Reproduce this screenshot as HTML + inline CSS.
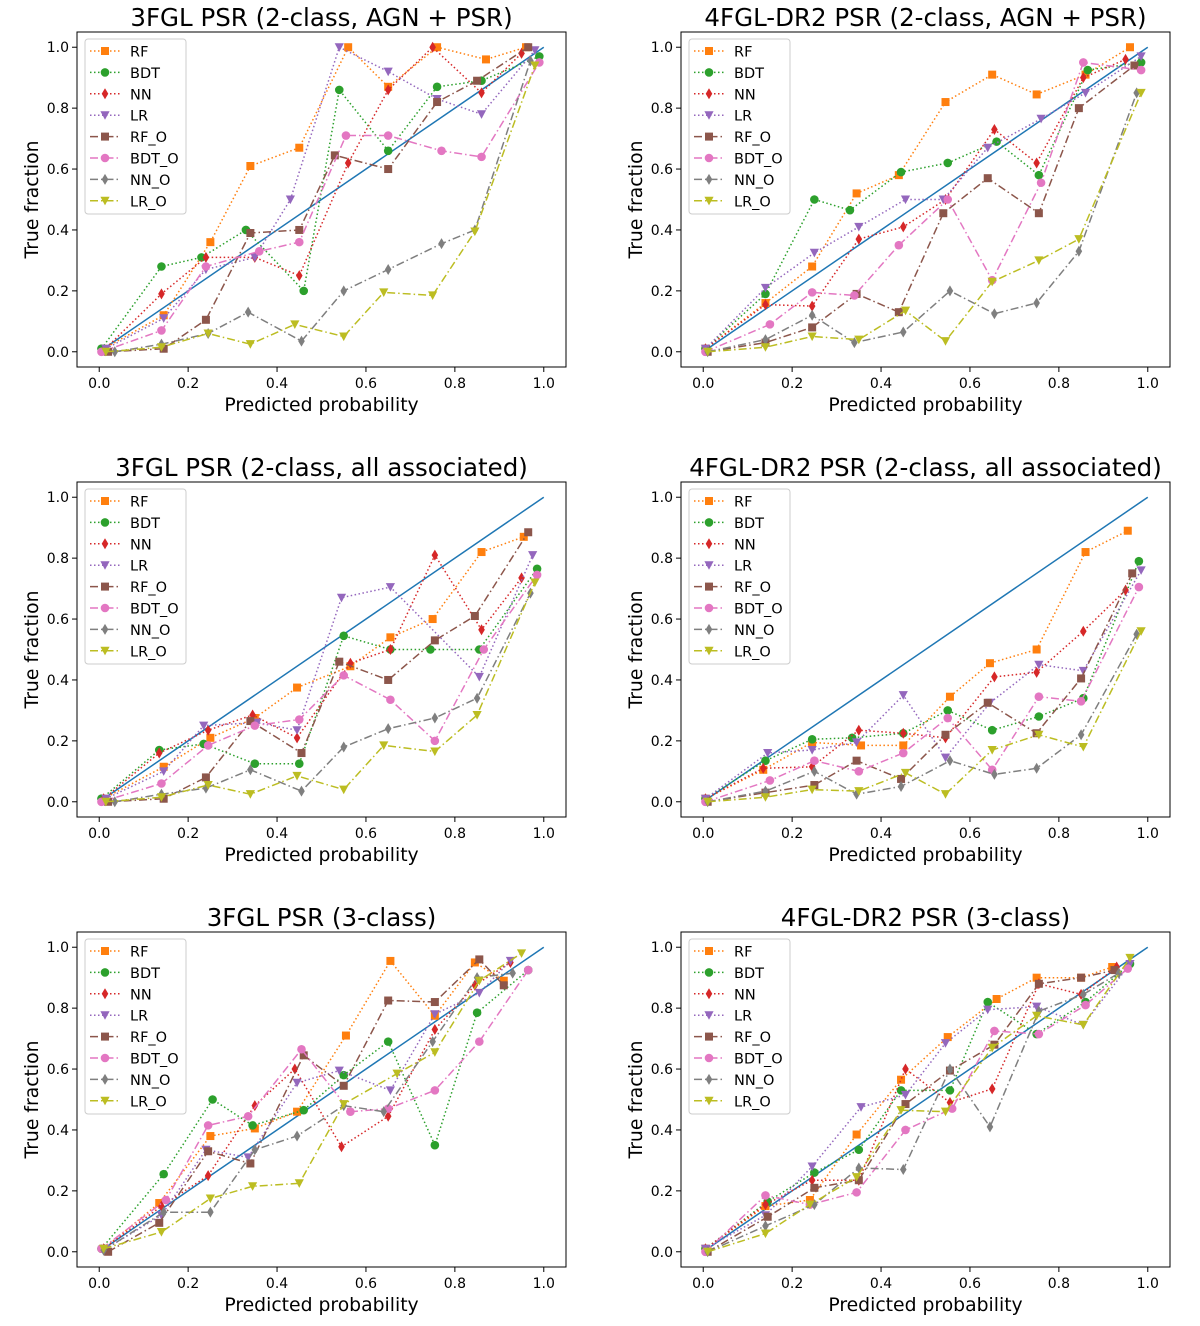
<!DOCTYPE html>
<html><head><meta charset="utf-8"><style>
body{margin:0;background:#fff;}
svg{display:block;font-family:"DejaVu Sans","Liberation Sans",sans-serif;}
</style></head><body>
<svg id="fig" width="1200" height="1326" viewBox="0 0 1200 1326" xmlns="http://www.w3.org/2000/svg"></svg>
<script>
const seriesNames = ["RF","BDT","NN","LR","RF_O","BDT_O","NN_O","LR_O"];
const panelTitles = ["3FGL PSR (2-class, AGN + PSR)","4FGL-DR2 PSR (2-class, AGN + PSR)","3FGL PSR (2-class, all associated)","4FGL-DR2 PSR (2-class, all associated)","3FGL PSR (3-class)","4FGL-DR2 PSR (3-class)"];
const tickValues = [0,0.2,0.4,0.6,0.8,1.0];
const tickLabels = ["0.0","0.2","0.4","0.6","0.8","1.0"];

// Panel 1: 3FGL AGN+PSR
const p1_RF_x=[0.01,0.145,0.25,0.34,0.45,0.56,0.65,0.76,0.87,0.96];
const p1_RF_y=[0.01,0.12,0.36,0.61,0.67,1.0,0.87,1.0,0.96,1.0];
const p1_BDT_x=[0.005,0.14,0.23,0.33,0.46,0.54,0.65,0.76,0.86,0.99];
const p1_BDT_y=[0.01,0.28,0.31,0.40,0.20,0.86,0.66,0.87,0.89,0.97];
const p1_NN_x=[0.01,0.14,0.24,0.35,0.45,0.56,0.65,0.75,0.86,0.95];
const p1_NN_y=[0.005,0.19,0.31,0.31,0.25,0.62,0.86,1.0,0.85,0.98];
const p1_LR_x=[0.015,0.145,0.24,0.35,0.43,0.54,0.65,0.76,0.86,0.98];
const p1_LR_y=[0.01,0.11,0.27,0.31,0.50,1.0,0.92,0.83,0.78,0.99];
const p1_RFO_x=[0.02,0.145,0.24,0.34,0.45,0.53,0.65,0.76,0.85,0.965];
const p1_RFO_y=[0.0,0.01,0.105,0.39,0.40,0.645,0.60,0.82,0.89,1.0];
const p1_BDTO_x=[0.005,0.14,0.24,0.36,0.45,0.555,0.65,0.77,0.86,0.99];
const p1_BDTO_y=[0.0,0.07,0.28,0.33,0.36,0.71,0.71,0.66,0.64,0.95];
const p1_NNO_x=[0.035,0.14,0.245,0.335,0.455,0.55,0.65,0.77,0.845,0.97];
const p1_NNO_y=[0.0,0.025,0.06,0.13,0.035,0.20,0.27,0.355,0.40,0.955];
const p1_LRO_x=[0.015,0.14,0.245,0.34,0.44,0.55,0.64,0.75,0.845,0.98];
const p1_LRO_y=[0.0,0.015,0.06,0.025,0.09,0.05,0.195,0.185,0.395,0.94];

// Panel 2: 4FGL-DR2 AGN+PSR
const p2_RF_x=[0.005,0.14,0.245,0.345,0.44,0.545,0.65,0.75,0.86,0.96];
const p2_RF_y=[0.01,0.16,0.28,0.52,0.58,0.82,0.91,0.845,0.91,1.0];
const p2_BDT_x=[0.005,0.14,0.25,0.33,0.445,0.55,0.66,0.755,0.865,0.985];
const p2_BDT_y=[0.01,0.19,0.50,0.465,0.59,0.62,0.69,0.58,0.925,0.95];
const p2_NN_x=[0.005,0.14,0.245,0.35,0.45,0.545,0.655,0.75,0.855,0.95];
const p2_NN_y=[0.01,0.155,0.15,0.37,0.41,0.50,0.73,0.62,0.90,0.96];
const p2_LR_x=[0.005,0.14,0.25,0.35,0.455,0.54,0.64,0.76,0.86,0.985];
const p2_LR_y=[0.01,0.21,0.325,0.41,0.50,0.50,0.67,0.765,0.85,0.97];
const p2_RFO_x=[0.01,0.14,0.245,0.345,0.44,0.54,0.64,0.755,0.845,0.97];
const p2_RFO_y=[0.0,0.03,0.08,0.19,0.13,0.455,0.57,0.455,0.80,0.94];
const p2_BDTO_x=[0.005,0.15,0.245,0.34,0.44,0.55,0.65,0.76,0.855,0.985];
const p2_BDTO_y=[0.0,0.09,0.195,0.185,0.35,0.50,0.235,0.555,0.95,0.925];
const p2_NNO_x=[0.01,0.14,0.245,0.34,0.45,0.555,0.655,0.75,0.845,0.975];
const p2_NNO_y=[0.0,0.04,0.12,0.03,0.065,0.20,0.125,0.16,0.33,0.85];
const p2_LRO_x=[0.01,0.14,0.245,0.35,0.455,0.545,0.65,0.755,0.845,0.985];
const p2_LRO_y=[0.0,0.015,0.05,0.04,0.135,0.035,0.23,0.30,0.37,0.85];

// Panel 3: 3FGL all associated
const p3_RF_x=[0.01,0.145,0.25,0.35,0.445,0.565,0.655,0.75,0.86,0.955];
const p3_RF_y=[0.01,0.115,0.21,0.275,0.375,0.445,0.54,0.60,0.82,0.87];
const p3_BDT_x=[0.005,0.135,0.235,0.35,0.45,0.55,0.655,0.745,0.855,0.985];
const p3_BDT_y=[0.01,0.17,0.19,0.125,0.125,0.545,0.50,0.50,0.50,0.765];
const p3_NN_x=[0.01,0.135,0.245,0.345,0.445,0.565,0.655,0.755,0.86,0.95];
const p3_NN_y=[0.01,0.16,0.235,0.285,0.21,0.455,0.50,0.81,0.565,0.735];
const p3_LR_x=[0.015,0.145,0.235,0.355,0.445,0.545,0.655,0.855,0.975];
const p3_LR_y=[0.01,0.10,0.25,0.26,0.235,0.67,0.705,0.41,0.81];
const p3_RFO_x=[0.02,0.145,0.24,0.34,0.455,0.54,0.65,0.755,0.845,0.965];
const p3_RFO_y=[0.0,0.01,0.08,0.265,0.16,0.46,0.40,0.53,0.61,0.885];
const p3_BDTO_x=[0.005,0.14,0.245,0.35,0.45,0.55,0.655,0.755,0.865,0.985];
const p3_BDTO_y=[0.0,0.06,0.185,0.25,0.27,0.415,0.335,0.20,0.50,0.745];
const p3_NNO_x=[0.035,0.14,0.24,0.34,0.455,0.55,0.65,0.755,0.85,0.97];
const p3_NNO_y=[0.0,0.025,0.045,0.105,0.035,0.18,0.24,0.275,0.34,0.685];
const p3_LRO_x=[0.015,0.14,0.245,0.34,0.445,0.55,0.64,0.755,0.85,0.98];
const p3_LRO_y=[0.0,0.015,0.055,0.025,0.085,0.04,0.185,0.165,0.285,0.72];

// Panel 4: 4FGL-DR2 all associated
const p4_RF_x=[0.005,0.135,0.245,0.355,0.45,0.555,0.645,0.75,0.86,0.955];
const p4_RF_y=[0.01,0.105,0.195,0.185,0.185,0.345,0.455,0.50,0.82,0.89];
const p4_BDT_x=[0.005,0.14,0.245,0.335,0.45,0.55,0.65,0.755,0.855,0.98];
const p4_BDT_y=[0.01,0.135,0.205,0.21,0.225,0.30,0.235,0.28,0.34,0.79];
const p4_NN_x=[0.005,0.135,0.245,0.35,0.45,0.545,0.655,0.75,0.855,0.95];
const p4_NN_y=[0.01,0.11,0.115,0.235,0.225,0.21,0.41,0.425,0.56,0.695];
const p4_LR_x=[0.005,0.145,0.245,0.345,0.45,0.545,0.645,0.755,0.855,0.985];
const p4_LR_y=[0.01,0.16,0.17,0.195,0.35,0.145,0.325,0.45,0.43,0.76];
const p4_RFO_x=[0.01,0.14,0.25,0.345,0.445,0.545,0.64,0.75,0.85,0.965];
const p4_RFO_y=[0.0,0.03,0.055,0.135,0.075,0.22,0.325,0.225,0.405,0.75];
const p4_BDTO_x=[0.005,0.15,0.25,0.35,0.45,0.55,0.65,0.755,0.85,0.98];
const p4_BDTO_y=[0.0,0.07,0.135,0.10,0.16,0.275,0.105,0.345,0.33,0.705];
const p4_NNO_x=[0.01,0.14,0.25,0.345,0.445,0.555,0.655,0.75,0.85,0.975];
const p4_NNO_y=[0.0,0.035,0.10,0.025,0.05,0.135,0.09,0.11,0.22,0.55];
const p4_LRO_x=[0.01,0.14,0.245,0.35,0.455,0.545,0.65,0.755,0.855,0.985];
const p4_LRO_y=[0.0,0.015,0.04,0.035,0.095,0.025,0.17,0.22,0.18,0.56];

// Panel 5: 3FGL 3-class
const p5_RF_x=[0.01,0.135,0.25,0.35,0.445,0.555,0.655,0.755,0.845,0.91];
const p5_RF_y=[0.01,0.16,0.38,0.405,0.46,0.71,0.955,0.775,0.95,0.89];
const p5_BDT_x=[0.005,0.145,0.255,0.345,0.46,0.55,0.65,0.755,0.85,0.965];
const p5_BDT_y=[0.01,0.255,0.50,0.415,0.465,0.58,0.69,0.35,0.785,0.925];
const p5_NN_x=[0.01,0.14,0.245,0.35,0.44,0.545,0.65,0.755,0.845,0.925];
const p5_NN_y=[0.01,0.15,0.25,0.48,0.60,0.345,0.445,0.73,0.875,0.95];
const p5_LR_x=[0.015,0.14,0.24,0.335,0.445,0.54,0.655,0.755,0.855,0.925];
const p5_LR_y=[0.01,0.12,0.335,0.31,0.555,0.595,0.53,0.78,0.85,0.955];
const p5_RFO_x=[0.02,0.135,0.245,0.34,0.46,0.55,0.65,0.755,0.855,0.91];
const p5_RFO_y=[0.0,0.095,0.33,0.29,0.645,0.545,0.825,0.82,0.96,0.875];
const p5_BDTO_x=[0.005,0.15,0.245,0.335,0.455,0.565,0.65,0.755,0.855,0.965];
const p5_BDTO_y=[0.01,0.17,0.415,0.445,0.665,0.46,0.47,0.53,0.69,0.925];
const p5_NNO_x=[0.01,0.145,0.25,0.35,0.445,0.55,0.64,0.75,0.85,0.93];
const p5_NNO_y=[0.005,0.13,0.13,0.335,0.38,0.48,0.46,0.69,0.90,0.915];
const p5_LRO_x=[0.01,0.14,0.25,0.345,0.45,0.55,0.67,0.755,0.855,0.95];
const p5_LRO_y=[0.01,0.065,0.175,0.215,0.225,0.485,0.585,0.655,0.89,0.98];

// Panel 6: 4FGL-DR2 3-class
const p6_RF_x=[0.005,0.14,0.24,0.345,0.445,0.55,0.66,0.75,0.85,0.92];
const p6_RF_y=[0.01,0.15,0.17,0.385,0.565,0.705,0.83,0.90,0.90,0.935];
const p6_BDT_x=[0.005,0.145,0.25,0.35,0.445,0.555,0.64,0.75,0.86,0.96];
const p6_BDT_y=[0.01,0.165,0.26,0.335,0.53,0.53,0.82,0.715,0.82,0.945];
const p6_NN_x=[0.005,0.14,0.245,0.35,0.455,0.555,0.65,0.755,0.85,0.93];
const p6_NN_y=[0.01,0.155,0.235,0.235,0.60,0.49,0.535,0.88,0.845,0.935];
const p6_LR_x=[0.005,0.14,0.245,0.355,0.455,0.545,0.64,0.75,0.855,0.96];
const p6_LR_y=[0.01,0.12,0.28,0.475,0.515,0.685,0.795,0.805,0.745,0.945];
const p6_RFO_x=[0.01,0.145,0.25,0.35,0.455,0.555,0.655,0.755,0.85,0.925];
const p6_RFO_y=[0.0,0.115,0.21,0.235,0.485,0.595,0.68,0.88,0.90,0.925];
const p6_BDTO_x=[0.005,0.14,0.24,0.345,0.455,0.56,0.655,0.755,0.86,0.955];
const p6_BDTO_y=[0.0,0.185,0.155,0.195,0.40,0.47,0.725,0.715,0.81,0.93];
const p6_NNO_x=[0.01,0.14,0.25,0.35,0.45,0.555,0.645,0.755,0.855,0.935];
const p6_NNO_y=[0.0,0.085,0.155,0.275,0.27,0.60,0.41,0.79,0.845,0.915];
const p6_LRO_x=[0.01,0.14,0.24,0.345,0.445,0.545,0.65,0.75,0.855,0.96];
const p6_LRO_y=[0.0,0.06,0.155,0.245,0.465,0.46,0.67,0.775,0.745,0.965];

const panelX = [
 [p1_RF_x,p1_BDT_x,p1_NN_x,p1_LR_x,p1_RFO_x,p1_BDTO_x,p1_NNO_x,p1_LRO_x],
 [p2_RF_x,p2_BDT_x,p2_NN_x,p2_LR_x,p2_RFO_x,p2_BDTO_x,p2_NNO_x,p2_LRO_x],
 [p3_RF_x,p3_BDT_x,p3_NN_x,p3_LR_x,p3_RFO_x,p3_BDTO_x,p3_NNO_x,p3_LRO_x],
 [p4_RF_x,p4_BDT_x,p4_NN_x,p4_LR_x,p4_RFO_x,p4_BDTO_x,p4_NNO_x,p4_LRO_x],
 [p5_RF_x,p5_BDT_x,p5_NN_x,p5_LR_x,p5_RFO_x,p5_BDTO_x,p5_NNO_x,p5_LRO_x],
 [p6_RF_x,p6_BDT_x,p6_NN_x,p6_LR_x,p6_RFO_x,p6_BDTO_x,p6_NNO_x,p6_LRO_x]];
const panelY = [
 [p1_RF_y,p1_BDT_y,p1_NN_y,p1_LR_y,p1_RFO_y,p1_BDTO_y,p1_NNO_y,p1_LRO_y],
 [p2_RF_y,p2_BDT_y,p2_NN_y,p2_LR_y,p2_RFO_y,p2_BDTO_y,p2_NNO_y,p2_LRO_y],
 [p3_RF_y,p3_BDT_y,p3_NN_y,p3_LR_y,p3_RFO_y,p3_BDTO_y,p3_NNO_y,p3_LRO_y],
 [p4_RF_y,p4_BDT_y,p4_NN_y,p4_LR_y,p4_RFO_y,p4_BDTO_y,p4_NNO_y,p4_LRO_y],
 [p5_RF_y,p5_BDT_y,p5_NN_y,p5_LR_y,p5_RFO_y,p5_BDTO_y,p5_NNO_y,p5_LRO_y],
 [p6_RF_y,p6_BDT_y,p6_NN_y,p6_LR_y,p6_RFO_y,p6_BDTO_y,p6_NNO_y,p6_LRO_y]];

const colors=["#ff7f0e","#2ca02c","#d62728","#9467bd","#8c564b","#e377c2","#7f7f7f","#bcbd22"];
const markers=["s","o","d","v","s","o","d","v"];
const dashes=["1.5,2.5","1.5,2.5","1.5,2.5","1.5,2.5","8,3,1.5,3","8,3,1.5,3","8,3,1.5,3","8,3,1.5,3"];

const NS="http://www.w3.org/2000/svg";
const svg=document.getElementById('fig');
function mk(tag,attrs,parent){const e=document.createElementNS(NS,tag);for(const k in attrs)e.setAttribute(k,attrs[k]);(parent||svg).appendChild(e);return e;}
function marker(g,type,cx,cy,col){
  let e;
  if(type==="s"){e=mk('rect',{x:cx-4,y:cy-4,width:8,height:8,fill:col},g);}
  else if(type==="o"){e=mk('circle',{cx:cx,cy:cy,r:4.3,fill:col},g);}
  else if(type==="d"){e=mk('polygon',{points:`${cx},${cy-5.5} ${cx+3.3},${cy} ${cx},${cy+5.5} ${cx-3.3},${cy}`,fill:col},g);}
  else {e=mk('polygon',{points:`${cx-4.6},${cy-4} ${cx+4.6},${cy-4} ${cx},${cy+4.6}`,fill:col},g);}
  return e;
}

const boxW=489, boxH=335;
const lefts=[77,681], tops=[32,482,932];
for(let p=0;p<6;p++){
  const L=lefts[p%2], T=tops[Math.floor(p/2)];
  const sx=v=>L+(v+0.05)/1.1*boxW;
  const sy=v=>T+boxH-(v+0.05)/1.1*boxH;
  const g=mk('g',{});
  
  
  const t=mk('text',{x:L+boxW/2,y:T-6,'text-anchor':'middle','font-size':24.5,fill:'#000'},g);
  t.textContent=panelTitles[p];
  
  
  for(let i=0;i<tickValues.length;i++){
    const xv=sx(tickValues[i]);
    mk('line',{x1:xv,y1:T+boxH,x2:xv,y2:T+boxH+5,stroke:'#000','stroke-width':1},g);
    const xl=mk('text',{x:xv,y:T+boxH+21,'text-anchor':'middle','font-size':14},g);
    xl.textContent=tickLabels[i];
    
    
    const yv=sy(tickValues[i]);
    mk('line',{x1:L-5,y1:yv,x2:L,y2:yv,stroke:'#000','stroke-width':1},g);
    const yl=mk('text',{x:L-8,y:yv+5,'text-anchor':'end','font-size':14},g);
    yl.textContent=tickLabels[i];
    
    
  }
  const xt=mk('text',{x:L+boxW/2,y:T+boxH+44,'text-anchor':'middle','font-size':18.8},g);
  xt.textContent="Predicted probability";
  
  
  const yt=mk('text',{x:0,y:0,'text-anchor':'middle','font-size':18.8,transform:`translate(${L-39},${T+boxH/2}) rotate(-90)`},g);
  yt.textContent="True fraction";
  
  
  const d=mk('line',{x1:sx(0),y1:sy(0),x2:sx(1),y2:sy(1),stroke:'#1f77b4','stroke-width':1.5},g);
  
  
  for(let s=0;s<8;s++){
    const xs=panelX[p][s], ys=panelY[p][s];
    const sg=mk('g',{},g);
    
    
    const pts=xs.map((x,i)=>sx(x).toFixed(1)+','+sy(ys[i]).toFixed(1)).join(' ');
    mk('polyline',{points:pts,fill:'none',stroke:colors[s],'stroke-width':1.5,'stroke-dasharray':dashes[s]},sg);
    for(let i=0;i<xs.length;i++){
      const m=marker(sg,markers[s],sx(xs[i]),sy(ys[i]),colors[s]);
      
      
    }
  }
  mk('rect',{x:L,y:T,width:boxW,height:boxH,fill:'none',stroke:'#000','stroke-width':1},g);
  const lg=mk('g',{},g);
  
  
  mk('rect',{x:L+8,y:T+7,width:101,height:175,rx:3,fill:'#fff','fill-opacity':0.8,stroke:'#ccc','stroke-width':1},lg);
  for(let s=0;s<8;s++){
    const yy=T+19+s*21.4;
    mk('line',{x1:L+13,y1:yy,x2:L+43,y2:yy,stroke:colors[s],'stroke-width':1.5,'stroke-dasharray':dashes[s]},lg);
    marker(lg,markers[s],L+28,yy,colors[s]);
    const lt=mk('text',{x:L+53,y:yy+5.5,'font-size':14.5},lg);
    lt.textContent=seriesNames[s];
    
    
  }
}
</script>
</body></html>
